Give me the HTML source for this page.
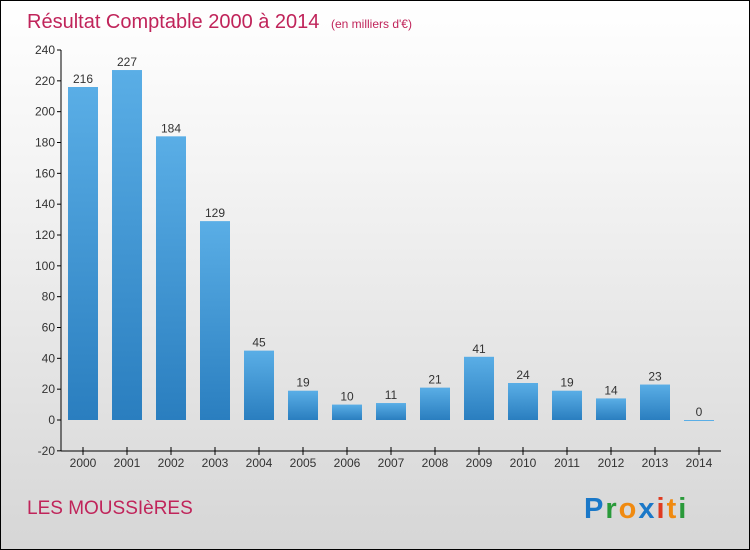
<!DOCTYPE html>
<html><head><meta charset="utf-8"><style>
body{margin:0}
#c{width:748px;height:548px;border:1px solid #000;background:linear-gradient(#ffffff,#f4f4f4 30%,#d6d6d6);position:relative;overflow:hidden;font-family:"Liberation Sans",sans-serif}
</style></head><body>
<div id="c">
<svg width="748" height="548">
<defs><linearGradient id="g" x1="0" y1="0" x2="0" y2="1"><stop offset="0" stop-color="#5aaee6"/><stop offset="1" stop-color="#2a7ebf"/></linearGradient></defs>
<text x="26" y="27" font-size="20" fill="#c0245a">Résultat Comptable 2000 à 2014 <tspan font-size="12" dx="6">(en milliers d'€)</tspan></text>
<g id="plot"></g>
<text x="26" y="513" font-size="19" fill="#c0245a">LES MOUSSIèRES</text>
<g font-size="29" font-weight="bold">
<text x="583" y="517" letter-spacing="2"><tspan fill="#1a78c8">P</tspan><tspan fill="#2a9a3a">r</tspan><tspan fill="#f08a10">o</tspan><tspan fill="#1a78c8">x</tspan><tspan fill="#e03a20">i</tspan><tspan fill="#f08a10">t</tspan><tspan fill="#2a9a3a">i</tspan></text></g>
</svg></div>
<script>
const years=["2000","2001","2002","2003","2004","2005","2006","2007","2008","2009","2010","2011","2012","2013","2014"];
const values=[216,227,184,129,45,19,10,11,21,41,24,19,14,23,0];
const yTicks=[-20,0,20,40,60,80,100,120,140,160,180,200,220,240];
const ns="http://www.w3.org/2000/svg",g=document.getElementById('plot');
const y=v=>419-v*(370/240), x=i=>82+i*44;
function mk(t,a,p){const e=document.createElementNS(ns,t);for(const k in a)e.setAttribute(k,a[k]);(p||g).appendChild(e);return e;}
const ya=mk('line',{x1:60,y1:49,x2:60,y2:450,stroke:'#000'});


const xa=mk('line',{x1:60,y1:450,x2:720,y2:450,stroke:'#000'});


yTicks.forEach(v=>{
 mk('line',{x1:56,x2:60,y1:y(v),y2:y(v),stroke:'#000'});
 const t=mk('text',{x:54,y:y(v)+4,'text-anchor':'end','font-size':12,fill:'#333'});t.textContent=v;
 
 
});
years.forEach((yr,i)=>{
 const v=values[i],top=Math.min(y(v),y(0)),h=Math.max(Math.abs(y(0)-y(v)),1);
 const r=mk('rect',{x:x(i)-15,y:top,width:30,height:h,fill:v===0?'#5aaee6':'url(#g)'});
 
 
 const l=mk('text',{x:x(i),y:top-4,'text-anchor':'middle','font-size':12,fill:'#333'});l.textContent=v;
 
 
 mk('line',{x1:x(i),x2:x(i),y1:446,y2:454,stroke:'#000'});
 const t=mk('text',{x:x(i),y:466,'text-anchor':'middle','font-size':12,fill:'#333'});t.textContent=yr;
 
 
});
</script></body></html>
